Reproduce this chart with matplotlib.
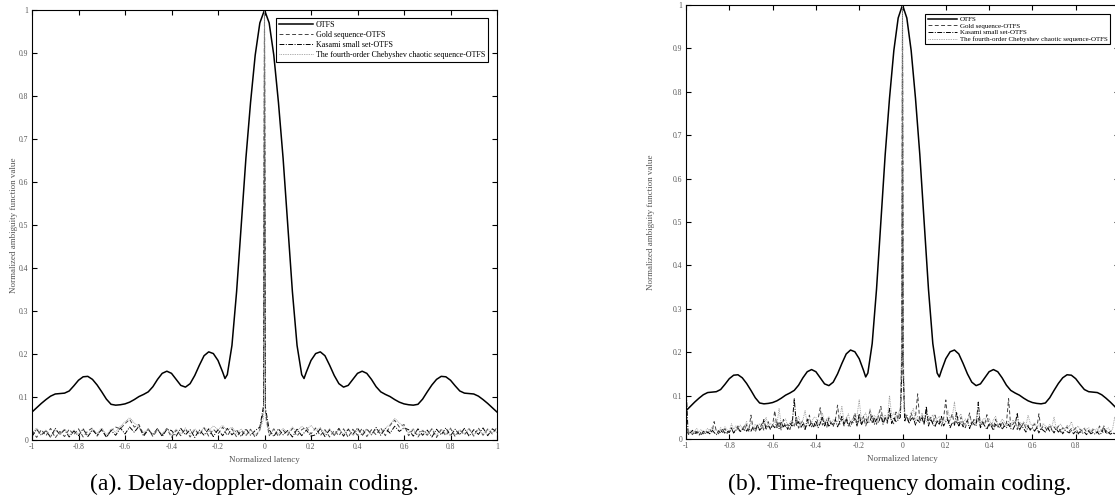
import numpy as np
import matplotlib
matplotlib.use("Agg")
import matplotlib.pyplot as plt

plt.rcParams['font.family'] = ['Liberation Serif', 'DejaVu Serif']

# ---------------- data ----------------
series_names = ["OTFS", "Gold sequence-OTFS", "Kasami small set-OTFS",
                "The fourth-order Chebyshev chaotic sequence-OTFS"]
xticks = [-1, -0.8, -0.6, -0.4, -0.2, 0, 0.2, 0.4, 0.6, 0.8, 1]
xtick_labels_a = ["-1", "-0.8", "-0.6", "-0.4", "-0.2", "0", "0.2", "0.4", "0.6", "0.8", "1"]
xtick_labels_b = ["-1", "-0.8", "-0.6", "-0.4", "-0.2", "0", "0.2", "0.4", "0.6", "0.8", ""]
yticks = [0, 0.1, 0.2, 0.3, 0.4, 0.5, 0.6, 0.7, 0.8, 0.9, 1]
ytick_labels = ["0", "0.1", "0.2", "0.3", "0.4", "0.5", "0.6", "0.7", "0.8", "0.9", "1"]
captions = ["(a). Delay-doppler-domain coding.", "(b). Time-frequency domain coding."]

# OTFS ambiguity (same in both panels)
otfs_lat = [-1.00, -0.98, -0.96, -0.94, -0.92, -0.90, -0.88, -0.86, -0.84, -0.82,
            -0.80, -0.78, -0.76, -0.74, -0.72, -0.70, -0.68, -0.66, -0.64, -0.62,
            -0.60, -0.58, -0.56, -0.54, -0.52, -0.50, -0.48, -0.46, -0.44, -0.42,
            -0.40, -0.38, -0.36, -0.34, -0.32, -0.30, -0.28, -0.26, -0.24, -0.22,
            -0.20, -0.18, -0.17, -0.16, -0.14, -0.12, -0.10, -0.08, -0.06, -0.04, -0.02,
            0.00,
            0.02, 0.04, 0.06, 0.08, 0.10, 0.12, 0.14, 0.16, 0.17, 0.18, 0.20,
            0.22, 0.24, 0.26, 0.28, 0.30, 0.32, 0.34, 0.36, 0.38, 0.40,
            0.42, 0.44, 0.46, 0.48, 0.50, 0.52, 0.54, 0.56, 0.58, 0.60,
            0.62, 0.64, 0.66, 0.68, 0.70, 0.72, 0.74, 0.76, 0.78, 0.80,
            0.82, 0.84, 0.86, 0.88, 0.90, 0.92, 0.94, 0.96, 0.98, 1.00]
otfs_val = [0.065, 0.075, 0.085, 0.094, 0.102, 0.107, 0.108, 0.109, 0.114, 0.126,
            0.139, 0.147, 0.148, 0.141, 0.128, 0.112, 0.095, 0.083, 0.081, 0.082,
            0.084, 0.088, 0.094, 0.101, 0.106, 0.112, 0.124, 0.141, 0.155, 0.160,
            0.155, 0.141, 0.127, 0.123, 0.131, 0.150, 0.174, 0.196, 0.205, 0.201,
            0.185, 0.158, 0.143, 0.152, 0.220, 0.345, 0.500, 0.655, 0.785, 0.895, 0.970,
            1.000,
            0.970, 0.895, 0.785, 0.655, 0.500, 0.345, 0.220, 0.152, 0.143, 0.158, 0.185,
            0.201, 0.205, 0.196, 0.174, 0.150, 0.131, 0.123, 0.127, 0.141, 0.155,
            0.160, 0.155, 0.141, 0.124, 0.112, 0.106, 0.101, 0.094, 0.088, 0.084,
            0.082, 0.081, 0.083, 0.095, 0.112, 0.128, 0.141, 0.148, 0.147, 0.139,
            0.126, 0.114, 0.109, 0.108, 0.107, 0.102, 0.094, 0.085, 0.075, 0.065]

# latency grids of the coded-sequence curves
seq_lat_a = np.round(np.concatenate([np.arange(-1.0, -0.01, 0.02),
                                     [-0.004, 0.0, 0.004],
                                     np.arange(0.02, 1.001, 0.02)]), 3)
seq_lat_b = np.round(np.concatenate([np.arange(-1.0, -0.005, 0.01),
                                     [-0.003, 0.0, 0.003],
                                     np.arange(0.01, 1.0005, 0.01)]), 3)

# (a) delay-doppler domain coding
gold_a = [0.022, 0.006, 0.024, 0.010, 0.027, 0.005, 0.020, 0.008, 0.025, 0.012,
          0.026, 0.007, 0.021, 0.028, 0.009, 0.024, 0.006, 0.022, 0.030, 0.026,
          0.038, 0.048, 0.030, 0.036, 0.012, 0.026, 0.008, 0.024, 0.011, 0.027,
          0.006, 0.023, 0.010, 0.026, 0.007, 0.024, 0.012, 0.028, 0.009, 0.025,
          0.014, 0.030, 0.010, 0.026, 0.007, 0.022, 0.010, 0.025, 0.006, 0.024,
          0.070, 1.000, 0.065,
          0.010, 0.026, 0.008, 0.023, 0.011, 0.027, 0.009, 0.024, 0.030, 0.014,
          0.028, 0.010, 0.024, 0.007, 0.022, 0.010, 0.026, 0.006, 0.025, 0.011,
          0.027, 0.008, 0.024, 0.012, 0.028, 0.010, 0.034, 0.046, 0.030, 0.036,
          0.010, 0.025, 0.007, 0.022, 0.011, 0.026, 0.006, 0.024, 0.010, 0.027,
          0.008, 0.023, 0.012, 0.026, 0.009, 0.028, 0.011, 0.025, 0.014, 0.030]
kasami_a = [0.008, 0.025, 0.011, 0.022, 0.006, 0.027, 0.012, 0.024, 0.007, 0.021,
            0.010, 0.026, 0.008, 0.023, 0.012, 0.025, 0.007, 0.022, 0.011, 0.028,
            0.014, 0.030, 0.018, 0.032, 0.009, 0.024, 0.012, 0.027, 0.008, 0.025,
            0.022, 0.009, 0.027, 0.012, 0.024, 0.006, 0.023, 0.011, 0.026, 0.008,
            0.024, 0.010, 0.027, 0.012, 0.023, 0.008, 0.026, 0.011, 0.022, 0.030,
            0.080, 1.000, 0.075,
            0.024, 0.008, 0.026, 0.012, 0.022, 0.007, 0.025, 0.010, 0.023, 0.009,
            0.012, 0.026, 0.008, 0.024, 0.011, 0.027, 0.009, 0.025, 0.013, 0.028,
            0.010, 0.026, 0.012, 0.029, 0.011, 0.027, 0.016, 0.032, 0.020, 0.028,
            0.024, 0.009, 0.026, 0.011, 0.023, 0.007, 0.025, 0.012, 0.028, 0.010,
            0.025, 0.012, 0.027, 0.009, 0.024, 0.013, 0.028, 0.010, 0.026, 0.018]
cheb_a = [0.016, 0.028, 0.012, 0.024, 0.009, 0.022, 0.014, 0.026, 0.010, 0.024,
          0.013, 0.027, 0.011, 0.025, 0.015, 0.028, 0.012, 0.026, 0.018, 0.032,
          0.042, 0.052, 0.040, 0.028, 0.018, 0.026, 0.012, 0.024, 0.014, 0.027,
          0.012, 0.025, 0.015, 0.028, 0.013, 0.026, 0.016, 0.030, 0.020, 0.033,
          0.024, 0.034, 0.022, 0.030, 0.016, 0.026, 0.011, 0.024, 0.013, 0.022,
          0.050, 1.000, 0.050,
          0.012, 0.024, 0.014, 0.027, 0.016, 0.030, 0.020, 0.032, 0.024, 0.034,
          0.022, 0.029, 0.015, 0.026, 0.011, 0.024, 0.013, 0.027, 0.010, 0.023,
          0.014, 0.026, 0.012, 0.025, 0.016, 0.028, 0.036, 0.050, 0.040, 0.030,
          0.016, 0.026, 0.012, 0.024, 0.014, 0.027, 0.011, 0.025, 0.015, 0.028,
          0.012, 0.024, 0.015, 0.027, 0.011, 0.025, 0.014, 0.026, 0.016, 0.029]

# (b) time-frequency domain coding
gold_b = [0.030, 0.012, 0.016, 0.010, 0.019, 0.013, 0.008, 0.017, 0.012, 0.020,
          0.014, 0.022, 0.016, 0.040, 0.018, 0.012, 0.021, 0.015, 0.024, 0.013,
          0.019, 0.026, 0.014, 0.022, 0.030, 0.017, 0.025, 0.020, 0.033, 0.018,
          0.055, 0.024, 0.016, 0.030, 0.022, 0.035, 0.019, 0.028, 0.040, 0.021,
          0.032, 0.065, 0.026, 0.038, 0.020, 0.045, 0.027, 0.034, 0.022, 0.040,
          0.030, 0.050, 0.025, 0.036, 0.042, 0.024, 0.033, 0.055, 0.028, 0.038,
          0.030, 0.046, 0.072, 0.032, 0.040, 0.026, 0.048, 0.034, 0.029, 0.044,
          0.078, 0.034, 0.046, 0.030, 0.050, 0.036, 0.028, 0.042, 0.060, 0.033,
          0.044, 0.036, 0.052, 0.030, 0.045, 0.065, 0.038, 0.048, 0.034, 0.056,
          0.075, 0.040, 0.050, 0.036, 0.058, 0.042, 0.035, 0.062, 0.045, 0.070,
          0.200, 1.000, 0.180,
          0.060, 0.048, 0.038, 0.060, 0.044, 0.052, 0.104, 0.040, 0.055, 0.036,
          0.062, 0.040, 0.050, 0.034, 0.055, 0.038, 0.046, 0.030, 0.048, 0.090,
          0.036, 0.044, 0.058, 0.032, 0.040, 0.030, 0.050, 0.038, 0.026, 0.042,
          0.060, 0.032, 0.045, 0.036, 0.048, 0.028, 0.040, 0.034, 0.056, 0.030,
          0.038, 0.026, 0.045, 0.032, 0.024, 0.040, 0.030, 0.036, 0.093, 0.028,
          0.034, 0.042, 0.022, 0.036, 0.028, 0.038, 0.024, 0.032, 0.020, 0.030,
          0.034, 0.024, 0.058, 0.022, 0.030, 0.026, 0.018, 0.032, 0.022, 0.028,
          0.020, 0.030, 0.016, 0.026, 0.022, 0.028, 0.018, 0.024, 0.020, 0.026,
          0.014, 0.022, 0.018, 0.024, 0.016, 0.020, 0.013, 0.022, 0.017, 0.015,
          0.030, 0.018, 0.014, 0.020, 0.012, 0.018, 0.015, 0.012, 0.019, 0.018]
kasami_b = [0.125, 0.010, 0.014, 0.020, 0.011, 0.017, 0.013, 0.009, 0.018, 0.012,
            0.016, 0.012, 0.021, 0.015, 0.010, 0.019, 0.014, 0.022, 0.012, 0.018,
            0.015, 0.024, 0.014, 0.020, 0.026, 0.016, 0.022, 0.030, 0.018, 0.025,
            0.018, 0.028, 0.022, 0.032, 0.020, 0.026, 0.045, 0.022, 0.030, 0.024,
            0.032, 0.026, 0.038, 0.024, 0.040, 0.028, 0.034, 0.022, 0.036, 0.030,
            0.093, 0.030, 0.040, 0.026, 0.034, 0.022, 0.046, 0.030, 0.038, 0.028,
            0.042, 0.026, 0.036, 0.050, 0.030, 0.044, 0.028, 0.038, 0.032, 0.045,
            0.028, 0.040, 0.052, 0.034, 0.046, 0.030, 0.040, 0.036, 0.048, 0.030,
            0.058, 0.032, 0.044, 0.048, 0.036, 0.042, 0.055, 0.034, 0.046, 0.038,
            0.055, 0.034, 0.048, 0.040, 0.070, 0.036, 0.050, 0.040, 0.044, 0.050,
            0.150, 1.000, 0.160,
            0.040, 0.055, 0.036, 0.046, 0.050, 0.032, 0.044, 0.038, 0.048, 0.034,
            0.075, 0.030, 0.046, 0.036, 0.028, 0.042, 0.034, 0.052, 0.030, 0.040,
            0.044, 0.026, 0.038, 0.032, 0.062, 0.030, 0.040, 0.028, 0.036, 0.042,
            0.024, 0.040, 0.034, 0.030, 0.085, 0.026, 0.038, 0.030, 0.022, 0.036,
            0.030, 0.020, 0.034, 0.028, 0.036, 0.022, 0.030, 0.026, 0.034, 0.024,
            0.022, 0.032, 0.060, 0.020, 0.030, 0.024, 0.016, 0.028, 0.022, 0.026,
            0.018, 0.026, 0.014, 0.024, 0.020, 0.016, 0.026, 0.018, 0.022, 0.014,
            0.024, 0.016, 0.022, 0.012, 0.020, 0.017, 0.014, 0.020, 0.012, 0.018,
            0.011, 0.017, 0.013, 0.016, 0.010, 0.018, 0.012, 0.015, 0.011, 0.016,
            0.010, 0.014, 0.030, 0.012, 0.016, 0.011, 0.014, 0.012, 0.015, 0.010]
cheb_b = [0.015, 0.012, 0.020, 0.014, 0.018, 0.024, 0.016, 0.022, 0.014, 0.019,
          0.024, 0.016, 0.028, 0.020, 0.022, 0.014, 0.026, 0.018, 0.028, 0.021,
          0.018, 0.035, 0.022, 0.030, 0.020, 0.032, 0.024, 0.028, 0.040, 0.022,
          0.040, 0.026, 0.034, 0.028, 0.036, 0.024, 0.030, 0.050, 0.028, 0.036,
          0.030, 0.042, 0.034, 0.070, 0.032, 0.040, 0.046, 0.030, 0.038, 0.044,
          0.030, 0.040, 0.052, 0.034, 0.044, 0.065, 0.036, 0.046, 0.038, 0.050,
          0.050, 0.032, 0.044, 0.060, 0.038, 0.046, 0.052, 0.036, 0.044, 0.040,
          0.040, 0.050, 0.075, 0.040, 0.046, 0.058, 0.036, 0.048, 0.042, 0.054,
          0.090, 0.044, 0.052, 0.060, 0.040, 0.070, 0.046, 0.054, 0.046, 0.062,
          0.064, 0.048, 0.056, 0.044, 0.100, 0.052, 0.060, 0.048, 0.058, 0.070,
          0.250, 1.000, 0.220,
          0.060, 0.050, 0.045, 0.058, 0.070, 0.042, 0.052, 0.040, 0.060, 0.046,
          0.040, 0.054, 0.046, 0.056, 0.038, 0.048, 0.052, 0.040, 0.046, 0.040,
          0.065, 0.044, 0.052, 0.085, 0.040, 0.050, 0.058, 0.038, 0.046, 0.036,
          0.052, 0.040, 0.034, 0.046, 0.070, 0.036, 0.044, 0.048, 0.038, 0.048,
          0.032, 0.044, 0.052, 0.036, 0.034, 0.046, 0.040, 0.030, 0.042, 0.030,
          0.044, 0.036, 0.028, 0.040, 0.034, 0.040, 0.030, 0.055, 0.036, 0.030,
          0.038, 0.028, 0.032, 0.024, 0.036, 0.030, 0.026, 0.034, 0.028, 0.050,
          0.024, 0.030, 0.034, 0.026, 0.022, 0.032, 0.028, 0.040, 0.024, 0.022,
          0.030, 0.024, 0.020, 0.026, 0.022, 0.026, 0.018, 0.024, 0.020, 0.024,
          0.016, 0.022, 0.020, 0.022, 0.026, 0.018, 0.022, 0.050, 0.030, 0.020]

# ---------------- figure ----------------
W, H = 1115, 496
fig = plt.figure(figsize=(W / 100, H / 100), dpi=100)

def px_axes(x0, x1, y_top, y_bottom):
    return fig.add_axes([x0 / W, 1 - y_bottom / H, (x1 - x0) / W, (y_bottom - y_top) / H])

ax_a = px_axes(32, 497, 10, 440)
ax_b = px_axes(686, 1119, 5, 439)

tick_color = '#555555'
styles = [dict(color='black', lw=1.1, ls='-'),
          dict(color='#444444', lw=0.7, ls=(0, (4, 2.5))),
          dict(color='black', lw=0.7, ls=(0, (5, 1.5, 1, 1.5))),
          dict(color='#999999', lw=0.7, ls=(0, (0.8, 1.0)))]

def draw(ax, lat, gold, kasami, cheb, xlabels, leg_fs, leg_anchor, label_x, leg_spacing):
    ax.plot(otfs_lat, otfs_val, label=series_names[0], **styles[0])
    ax.plot(lat, gold, label=series_names[1], **styles[1])
    ax.plot(lat, kasami, label=series_names[2], **styles[2])
    ax.plot(lat, cheb, label=series_names[3], **styles[3])
    ax.set_xlim(-1, 1)
    ax.set_ylim(0, 1)
    ax.set_xticks(xticks)
    ax.set_xticklabels(xlabels)
    ax.set_yticks(yticks)
    ax.set_yticklabels(ytick_labels)
    ax.tick_params(direction='in', top=True, right=True, length=3.5, width=0.8,
                   labelsize=5.5, labelcolor=tick_color, pad=2.5, color='black')
    for s in ax.spines.values():
        s.set_linewidth(0.8)
    ax.set_xlabel("Normalized latency", fontsize=6.5, color=tick_color)
    ax.xaxis.set_label_coords(0.5, -0.038)
    ax.set_ylabel("Normalized ambiguity function value", fontsize=6.5, color=tick_color)
    ax.yaxis.set_label_coords(label_x, 0.5)
    leg = ax.legend(loc='upper right', bbox_to_anchor=leg_anchor, borderaxespad=0,
                    fontsize=leg_fs, fancybox=False, framealpha=1, edgecolor='black',
                    handlelength=4.2, handletextpad=0.4, labelspacing=leg_spacing,
                    borderpad=0.35)
    leg.get_frame().set_linewidth(0.8)

draw(ax_a, seq_lat_a, gold_a, kasami_a, cheb_a, xtick_labels_a, 5.8,
     (1 - 9 / 465, 1 - 8 / 430), -0.03, 0.25)
draw(ax_b, seq_lat_b, gold_b, kasami_b, cheb_b, xtick_labels_b, 5.0,
     (1 - 9 / 433, 1 - 9 / 434), -0.072, 0.1)

fig.text(254 / W, 1 - 484 / H, captions[0], ha='center', va='center', fontsize=17)
fig.text(900 / W, 1 - 484 / H, captions[1], ha='center', va='center', fontsize=17)

fig.savefig("out.png", dpi=100)
